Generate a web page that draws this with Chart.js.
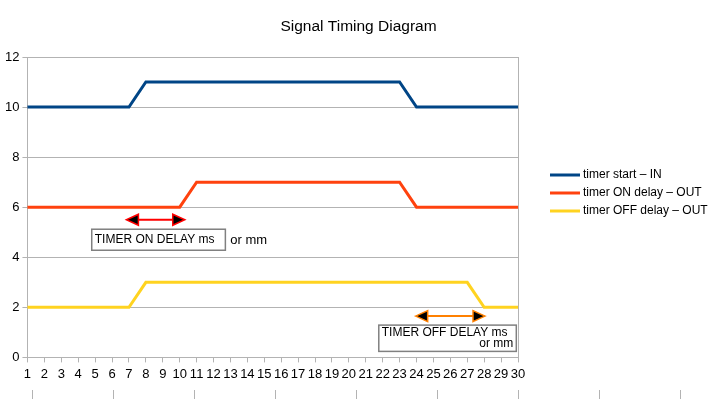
<!DOCTYPE html>
<html>
<head>
<meta charset="utf-8">
<script src="https://cdn.jsdelivr.net/npm/chart.js@4"></script>
<style>
  html, body { margin: 0; padding: 0; background: #fff; }
  #wrap { width: 717px; height: 399px; }
</style>
</head>
<body>
<div id="wrap"><canvas id="timing"></canvas></div>
<script>
const samples = ['1','2','3','4','5','6','7','8','9','10','11','12','13','14','15','16','17','18','19','20','21','22','23','24','25','26','27','28','29','30'];
const timerStart = [10,10,10,10,10,10,10,11,11,11,11,11,11,11,11,11,11,11,11,11,11,11,11,10,10,10,10,10,10,10];
const timerOnDelay = [6,6,6,6,6,6,6,6,6,6,7,7,7,7,7,7,7,7,7,7,7,7,7,6,6,6,6,6,6,6];
const timerOffDelay = [2,2,2,2,2,2,2,3,3,3,3,3,3,3,3,3,3,3,3,3,3,3,3,3,3,3,3,2,2,2];
const seriesNames = ['timer start – IN', 'timer ON delay – OUT', 'timer OFF delay – OUT'];
const yTicks = [0, 2, 4, 6, 8, 10, 12];
const chartTitle = 'Signal Timing Diagram';

const FONT = '"Liberation Sans", Arial, sans-serif';

// title, legend, arrows and boxes; notes are positioned in data units (x index, y value)
const drawNotes = {
  id: 'drawNotes',
  afterDraw(chart) {
    const { ctx, scales } = chart;
    const px = v => scales.x.getPixelForValue(v - 1);
    const py = v => scales.y.getPixelForValue(v);

    // title centred on the whole picture, not just the plot
    ctx.save();
    ctx.font = '15.5px ' + FONT;
    ctx.fillStyle = '#000';
    ctx.textAlign = 'center';
    ctx.textBaseline = 'middle';
    ctx.fillText(chartTitle, chart.width / 2, 27);
    ctx.restore();

    const arrow = (x1, x2, y, color) => {
      const a = px(x1), b = px(x2), yy = py(y);
      ctx.save();
      ctx.strokeStyle = color;
      ctx.lineWidth = 2;
      ctx.beginPath();
      ctx.moveTo(a + 8, yy);
      ctx.lineTo(b - 8, yy);
      ctx.stroke();
      ctx.fillStyle = '#000';
      ctx.lineWidth = 1.5;
      [[a, 1], [b, -1]].forEach(([tip, d]) => {
        ctx.beginPath();
        ctx.moveTo(tip, yy);
        ctx.lineTo(tip + d * 12, yy - 5.5);
        ctx.lineTo(tip + d * 12, yy + 5.5);
        ctx.closePath();
        ctx.fill();
        ctx.stroke();
      });
      ctx.restore();
    };

    const box = (x1, x2, y1, y2) => {
      const l = px(x1), r = px(x2), t = py(y1), b = py(y2);
      ctx.save();
      ctx.fillStyle = '#fff';
      ctx.fillRect(l, t, r - l, b - t);
      ctx.strokeStyle = '#808080';
      ctx.lineWidth = 1.5;
      ctx.strokeRect(l, t, r - l, b - t);
      ctx.restore();
      return { l, r, t, b };
    };

    arrow(6.85, 10.3, 5.5, '#ff0000');
    arrow(23.95, 28.05, 1.65, '#ff8000');

    ctx.save();
    ctx.font = '12px ' + FONT;
    ctx.fillStyle = '#000';
    ctx.textBaseline = 'middle';

    const b1 = box(4.8, 12.7, 5.12, 4.28);
    ctx.textAlign = 'left';
    ctx.fillText('TIMER ON DELAY ms', b1.l + 3, (b1.t + b1.b) / 2);
    ctx.font = '13px ' + FONT;
    ctx.fillText('or mm', b1.r + 5, (b1.t + b1.b) / 2 + 1);

    const b2 = box(21.77, 29.9, 1.29, 0.24);
    ctx.font = '12px ' + FONT;
    ctx.fillText('TIMER OFF DELAY ms', b2.l + 3, b2.t + 8);
    ctx.textAlign = 'right';
    ctx.fillText('or mm', b2.r - 3, b2.t + 19);
    ctx.restore();

    // legend
    ctx.save();
    ctx.font = '12px ' + FONT;
    ctx.textBaseline = 'middle';
    ctx.textAlign = 'left';
    chart.data.datasets.forEach((ds, i) => {
      const y = 175 + i * 18;
      ctx.strokeStyle = ds.borderColor;
      ctx.lineWidth = 3;
      ctx.beginPath();
      ctx.moveTo(550, y);
      ctx.lineTo(580, y);
      ctx.stroke();
      ctx.fillStyle = '#000';
      ctx.fillText(ds.label, 583, y);
    });

    // stray tick marks at the bottom edge (cut-off axis in the original)
    ctx.strokeStyle = '#b3b3b3';
    ctx.lineWidth = 1;
    for (let i = 0; i < 9; i++) {
      const x = 32.5 + i * 81;
      ctx.beginPath();
      ctx.moveTo(x, 390);
      ctx.lineTo(x, 399);
      ctx.stroke();
    }
    ctx.restore();
  }
};

new Chart(document.getElementById('timing'), {
  type: 'line',
  data: {
    labels: samples,
    datasets: [
      { label: seriesNames[0], data: timerStart, borderColor: '#004586' },
      { label: seriesNames[1], data: timerOnDelay, borderColor: '#ff420e' },
      { label: seriesNames[2], data: timerOffDelay, borderColor: '#ffd320' }
    ].map(d => ({ ...d, borderWidth: 3, pointRadius: 0, tension: 0, fill: false }))
  },
  options: {
    responsive: true,
    maintainAspectRatio: false,
    animation: false,
    layout: { padding: { left: 2, right: 199, top: 57, bottom: 13 } },
    plugins: {
      legend: { display: false },
      tooltip: { enabled: false },
      title: { display: false }
    },
    scales: {
      x: {
        offset: false,
        grid: { drawOnChartArea: false, color: '#b3b3b3', tickLength: 5 },
        border: { color: '#b3b3b3' },
        ticks: {
          color: '#000',
          font: { family: FONT, size: 13 },
          maxRotation: 0,
          autoSkip: false,
          padding: 4
        }
      },
      y: {
        min: 0,
        max: 12,
        afterBuildTicks: axis => { axis.ticks = yTicks.map(v => ({ value: v })); },
        grid: { color: '#b3b3b3', tickLength: 5 },
        border: { color: '#b3b3b3' },
        ticks: { color: '#000', font: { family: FONT, size: 13 }, padding: 3 }
      },
      y2: {
        position: 'right',
        min: 0,
        max: 12,
        ticks: { display: false },
        grid: { drawOnChartArea: false, tickLength: 0 },
        border: { color: '#b3b3b3' }
      }
    }
  },
  plugins: [drawNotes]
});
</script>
</body>
</html>
